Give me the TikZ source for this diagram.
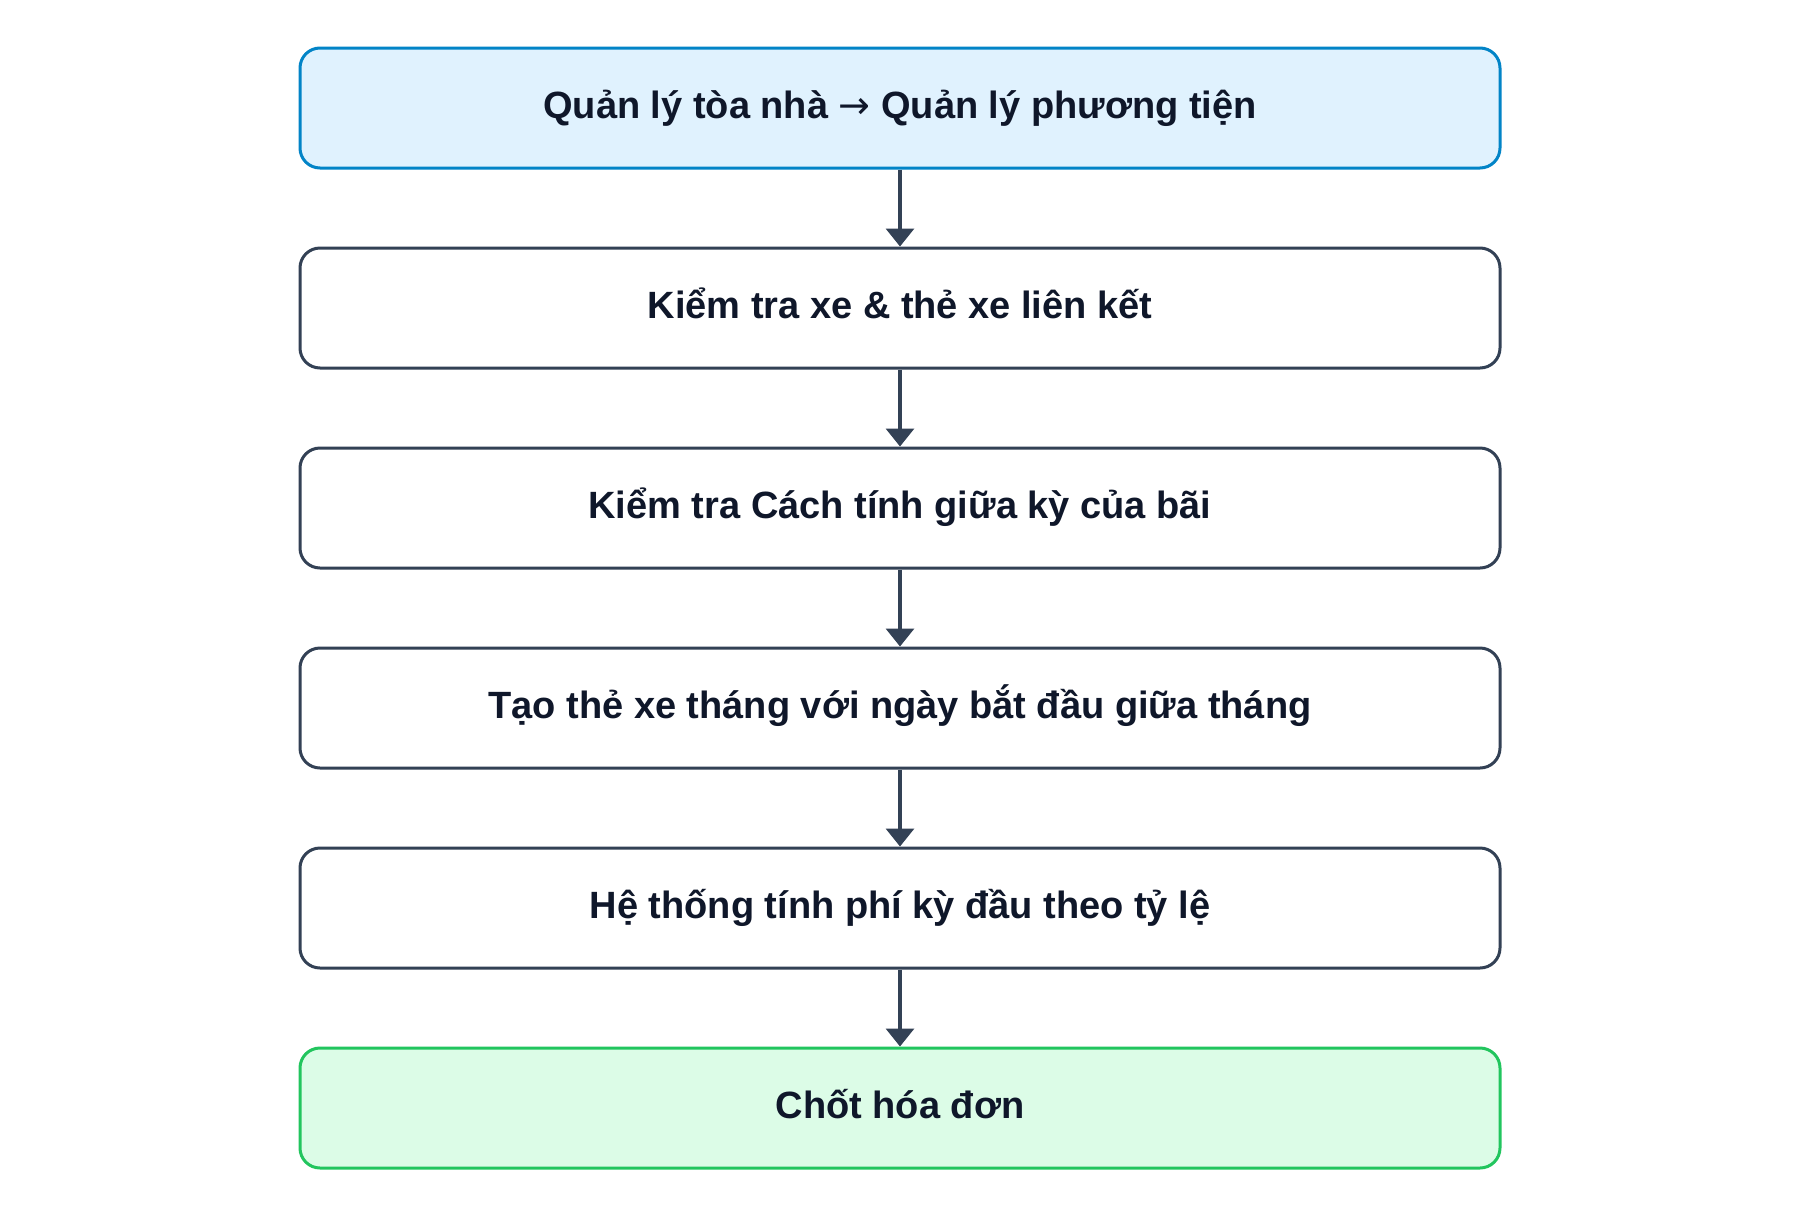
\documentclass[tikz,border=0pt]{standalone}
\usepackage{fontspec}
\setmainfont{Liberation Sans}
\newfontfamily\arrowfont{DejaVu Sans}
\usetikzlibrary{arrows.meta}
\definecolor{txt}{HTML}{0F172A}
\definecolor{slate}{HTML}{334155}
\definecolor{bluestroke}{HTML}{0284C7}
\definecolor{bluefill}{HTML}{E0F2FE}
\definecolor{greenstroke}{HTML}{22C55E}
\definecolor{greenfill}{HTML}{DCFCE7}
\tikzset{
  stepbox/.style={draw=slate, fill=white, line width=3pt, rounded corners=20pt,
    minimum width=1200pt, minimum height=120pt, inner sep=0pt,
    text height=28pt, text depth=8pt,
    font=\fontsize{38}{45}\selectfont\bfseries, text=txt},
  startbox/.style={stepbox, draw=bluestroke, fill=bluefill},
  endbox/.style={stepbox, draw=greenstroke, fill=greenfill},
  flow/.style={draw=slate, line width=3.5pt, -{Triangle[width=28pt,length=18pt]}}
}
\begin{document}
\begin{tikzpicture}[x=1pt,y=-1pt]
\path[use as bounding box, fill=white] (0,0) rectangle (1800,1216);
\node[startbox] (n1) at (900,108) {Quản lý tòa nhà {\arrowfont\mdseries →} Quản lý phương tiện};
\node[stepbox] (n2) at (900,308) {Kiểm tra xe \& thẻ xe liên kết};
\node[stepbox] (n3) at (900,508) {Kiểm tra Cách tính giữa kỳ của bãi};
\node[stepbox] (n4) at (900,708) {Tạo thẻ xe tháng với ngày bắt đầu giữa tháng};
\node[stepbox] (n5) at (900,908) {Hệ thống tính phí kỳ đầu theo tỷ lệ};
\node[endbox] (n6) at (900,1108) {Chốt hóa đơn};
\draw[flow] (n1) -- (n2);
\draw[flow] (n2) -- (n3);
\draw[flow] (n3) -- (n4);
\draw[flow] (n4) -- (n5);
\draw[flow] (n5) -- (n6);
\end{tikzpicture}
\end{document}
